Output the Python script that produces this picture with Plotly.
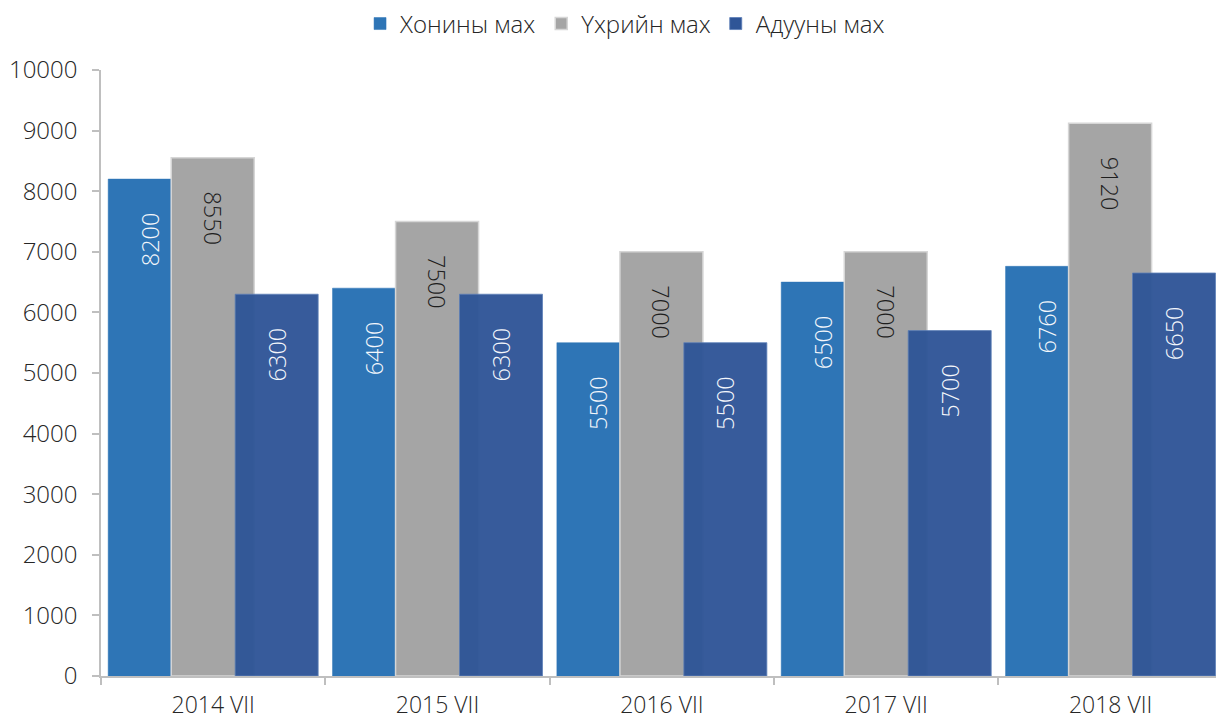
import plotly.graph_objects as go

categories = ["2014 VII", "2015 VII", "2016 VII", "2017 VII", "2018 VII"]
khonin = [8200, 6400, 5500, 6500, 6760]
ukhriin = [8550, 7500, 7000, 7000, 9120]
aduun = [6300, 6300, 5500, 5700, 6650]
series_names = ["Хонины мах", "Үхрийн мах", "Адууны мах"]
y_ticks = list(range(0, 10001, 1000))
y_ticktext = [str(v) for v in y_ticks]

PAD = "\u00a0" * 5
FONT = "Open Sans"
LBL = 23.5
TXT = 24

fig = go.Figure()
fig.add_trace(go.Bar(
    x=categories, y=khonin, name=series_names[0],
    offset=-0.468, width=0.37,
    marker=dict(color="#2E75B6", line=dict(color="#2E75B6", width=0.5)),
    text=[f"{v}{PAD}" for v in khonin], textposition="inside",
    insidetextanchor="end", textangle=-90,
    textfont=dict(family=FONT, size=LBL, color="#F4F7FB", weight=300),
    constraintext="none",
))
fig.add_trace(go.Bar(
    x=categories, y=ukhriin, name=series_names[1],
    offset=-0.187, width=0.37,
    marker=dict(color="#A5A5A5", line=dict(color="#D6D6D6", width=1.5)),
    text=[f"{PAD}{v}" for v in ukhriin], textposition="inside",
    insidetextanchor="end", textangle=90,
    textfont=dict(family=FONT, size=LBL, color="#1E1E1E", weight=300),
    constraintext="none",
))
fig.add_trace(go.Bar(
    x=categories, y=aduun, name=series_names[2],
    offset=0.098, width=0.37,
    marker=dict(color="#2F5597", opacity=0.96, line=dict(color="#5B7DB8", width=0.8)),
    text=[f"{v}{PAD}" for v in aduun], textposition="inside",
    insidetextanchor="end", textangle=-90,
    textfont=dict(family=FONT, size=LBL, color="#F4F7FB", weight=300),
    constraintext="none",
))

fig.update_layout(
    width=1216, height=720,
    barmode="overlay",
    plot_bgcolor="white", paper_bgcolor="white",
    margin=dict(l=101, r=0, t=70, b=44, autoexpand=False),
    font=dict(family=FONT, size=TXT, color="#262626"),
    legend=dict(
        orientation="h", x=0.47, xanchor="center", y=0.998, yanchor="top",
        yref="container", font=dict(family=FONT, size=TXT, color="#262626", weight=300),
        itemwidth=30, traceorder="normal",
    ),
    showlegend=True,
)
fig.update_xaxes(
    type="category", range=[-0.5, 4.47], automargin=False,
    showline=True, linecolor="#BFBFBF", linewidth=1.5,
    ticks="outside", tickson="boundaries", ticklen=7, tickcolor="#BFBFBF", tickwidth=1.5,
    ticklabelstandoff=8,
    showgrid=False, tickfont=dict(family=FONT, size=23, color="#262626", weight=300),
)
fig.update_yaxes(
    range=[0, 10000], tickvals=y_ticks, ticktext=y_ticktext, automargin=False,
    showline=True, linecolor="#BFBFBF", linewidth=1.5,
    ticks="outside", ticklen=7, tickcolor="#BFBFBF", tickwidth=1.5,
    ticklabelstandoff=10,
    showgrid=False, zeroline=False, tickfont=dict(family=FONT, size=TXT, color="#262626", weight=300),
)

fig.write_html(
    "out.html",
    config={"displayModeBar": False},
    post_script="document.body.style.margin='0';document.body.style.overflow='hidden';",
)
